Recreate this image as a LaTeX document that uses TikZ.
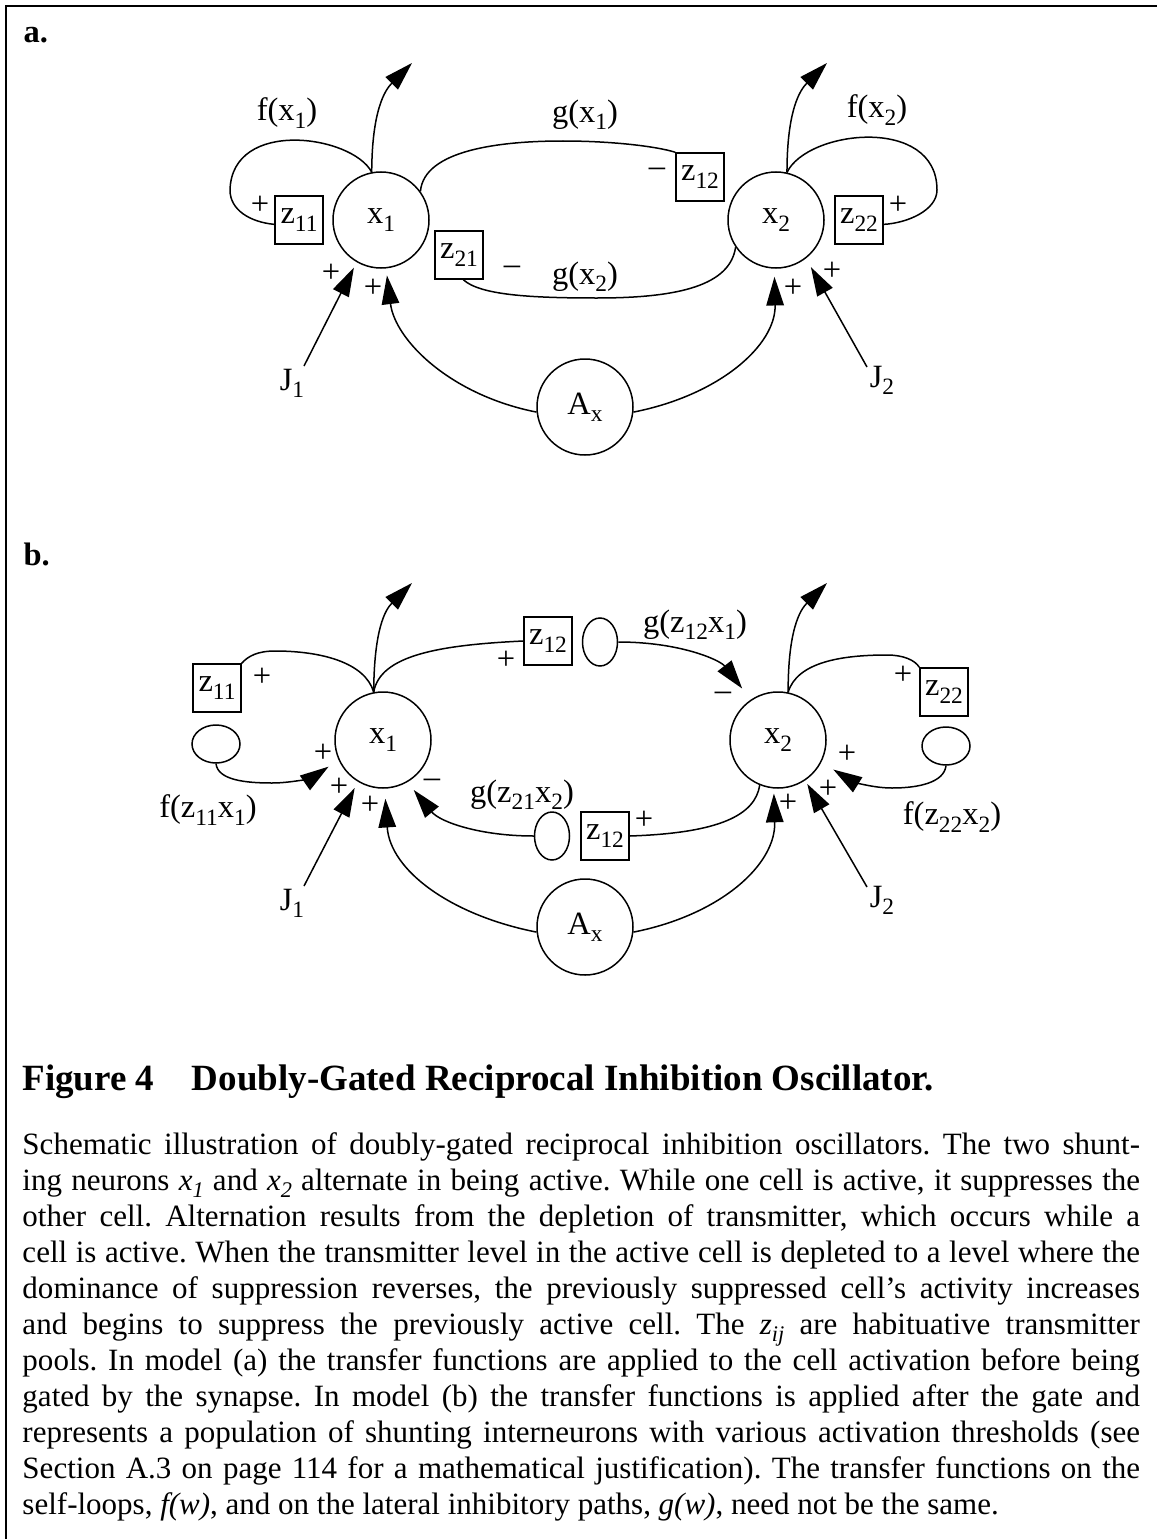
\documentclass[tikz,border=0pt]{standalone}
\usepackage{fontspec}
\setmainfont{Liberation Serif}
\usetikzlibrary{shapes.geometric, arrows.meta}
\newcommand{\lowsub}[1]{\raisebox{-0.22em}{\scalebox{0.72}{#1}}}
\tikzset{
	cell/.style   ={circle, draw=black, line width=0.6pt, minimum size=38.4pt, inner sep=0pt},
	gatebox/.style={rectangle, draw=black, line width=0.6pt, minimum size=19.2pt, inner sep=0pt},
	poolh/.style  ={ellipse, draw=black, line width=0.6pt, minimum width=19.2pt, minimum height=15.2pt, inner sep=0pt},
	poolv/.style  ={ellipse, draw=black, line width=0.6pt, minimum width=14pt, minimum height=19.2pt, inner sep=0pt},
	wire/.style   ={line width=0.6pt},
	sig/.style    ={-{Triangle[length=11.5pt, width=7pt]}, line width=0.6pt},
	sgn/.style    ={inner sep=0pt},
	% panel letters and caption
	panel/.style  ={anchor=base west, inner sep=0pt, font=\fontsize{13}{15}\selectfont\bfseries},
}

\begin{document}
\begin{tikzpicture}[x=0.4pt, y=-0.4pt, font=\fontsize{13}{15.6}\selectfont]
	\useasboundingbox (0,0) rectangle (1157,1539);
	\draw[line width=0.9pt] (6,1539) -- (6,6) -- (1157,6);

	% ---- panel a
	\node[panel] (pa) at (23,43) {a.};
	\node[cell] (xa1) at (381,220) {x\lowsub{1}};
	\node[cell] (xa2) at (776,220) {x\lowsub{2}};
	\node[cell] (aax) at (585,407) {A\lowsub{x}};
	\node[gatebox] (za11) at (299,220) {z\lowsub{11}};
	\node[gatebox] (za12) at (700,177) {z\lowsub{12}};
	\node[gatebox] (za21) at (459,255) {z\lowsub{21}};
	\node[gatebox] (za22) at (859,220) {z\lowsub{22}};
	\node (ja1lbl) at (292,383) {J\lowsub{1}};
	\node (ja2lbl) at (882,380) {J\lowsub{2}};
	\coordinate (ja1) at (304,366);
	\coordinate (ja2) at (867,367);
	\coordinate (outa1) at (412,63);
	\coordinate (outa2) at (827,63);
	\node (fa1) at (287,113) {f(x\lowsub{1})};
	\node (fa2) at (877,110) {f(x\lowsub{2})};
	\node (ga1) at (585,115) {g(x\lowsub{1})};
	\node (ga2) at (585,277) {g(x\lowsub{2})};

	\draw[sig] (xa1.101) .. controls (372,110) and (385,90) .. (outa1);
	\draw[sig] (xa2.77) .. controls (787,110) and (800,90) .. (outa2);
	\draw[wire] (xa1.101) .. controls (352,135) and (232,118) .. (230,190) .. controls (230,210) and (250,222) .. (za11.190);
	\draw[wire] (xa2.77) .. controls (807,130) and (937,115) .. (937,190) .. controls (937,210) and (908,223) .. (za22.-10);
	\draw[wire] (xa1.36) .. controls (424,150) and (500,141) .. (563,141) .. controls (610,141) and (655,146) .. (za12.north west);
	\draw[wire] (za21.-80) .. controls (480,295) and (530,298) .. (597,298) .. controls (680,298) and (730,285) .. (xa2.214);
	\draw[sig, shorten >=2.4pt] (ja1) -- (xa1.240);
	\draw[sig, shorten >=4pt] (ja2) -- (xa2.308);
	\draw[sig, shorten >=2.8pt] (aax.186) .. controls (450,395) and (395,340) .. (xa1.276);
	\draw[sig, shorten >=3.2pt] (aax.354) .. controls (720,395) and (776,345) .. (xa2.268);

	\node[sgn] at (260,205) {+};
	\node[sgn] at (898,205) {+};
	\node[sgn] at (331,273) {+};
	\node[sgn] at (373,288) {+};
	\node[sgn] at (793,288) {+};
	\node[sgn] at (832,271) {+};
	\node[sgn] at (657,172) {\textendash};
	\node[sgn] at (512,270) {\textendash};

	% ---- panel b
	\node[panel] (pb) at (23,565) {b.};
	\node[cell] (xb1) at (383,740) {x\lowsub{1}};
	\node[cell] (xb2) at (778,740) {x\lowsub{2}};
	\node[cell] (bax) at (585,927) {A\lowsub{x}};
	\node[gatebox] (zb11) at (217,688) {z\lowsub{11}};
	\node[gatebox] (zb12) at (548,641) {z\lowsub{12}};
	\node[gatebox] (zb21) at (605,836) {z\lowsub{12}};
	\node[gatebox] (zb22) at (944,692) {z\lowsub{22}};
	\node[poolh] (pb11) at (216,744) {};
	\node[poolv] (pb12) at (600,642) {};
	\node[poolv] (pb21) at (552,836) {};
	\node[poolh] (pb22) at (946,746) {};
	\node (jb1lbl) at (292,903) {J\lowsub{1}};
	\node (jb2lbl) at (882,900) {J\lowsub{2}};
	\coordinate (jb1) at (304,886);
	\coordinate (jb2) at (867,887);
	\coordinate (outb1) at (412,583);
	\coordinate (outb2) at (827,583);
	\node (fb1) at (208,810) {f(z\lowsub{11}x\lowsub{1})};
	\node (fb2) at (952,817) {f(z\lowsub{22}x\lowsub{2})};
	\node (gb1) at (695,625) {g(z\lowsub{12}x\lowsub{1})};
	\node (gb2) at (522,795) {g(z\lowsub{21}x\lowsub{2})};

	\draw[sig] (xb1.101) .. controls (374,630) and (385,610) .. (outb1);
	\draw[sig] (xb2.78) .. controls (788,630) and (800,610) .. (outb2);
	\draw[wire] (xb1.101) .. controls (365,662) and (320,651) .. (275,651) .. controls (258,651) and (248,656) .. (zb11.north east);
	\draw[wire] (xb2.78) .. controls (797,662) and (842,655) .. (887,655) .. controls (903,655) and (915,660) .. (zb22.north west);
	\draw[wire] (xb1.101) .. controls (380,655) and (440,645) .. (zb12.west);
	\draw[wire] (xb2.248) .. controls (755,815) and (720,833) .. (zb21.east);
	\draw[sig, shorten >=5.6pt] (pb12.east) .. controls (680,642) and (720,660) .. (xb2.124);
	\draw[sig, shorten >=4pt] (pb21.west) .. controls (480,836) and (440,822) .. (xb1.300);
	\draw[sig, shorten >=4.8pt] (pb11.south) .. controls (218,780) and (245,783) .. (272,783) .. controls (295,783) and (315,776) .. (xb1.204);
	\draw[sig, shorten >=5.6pt] (pb22.south) .. controls (944,782) and (920,788) .. (892,788) .. controls (870,788) and (850,780) .. (xb2.333);
	\draw[sig, shorten >=2.8pt] (jb1) -- (xb1.239);
	\draw[sig, shorten >=1.6pt] (jb2) -- (xb2.304);
	\draw[sig, shorten >=4pt] (bax.186) .. controls (450,915) and (390,870) .. (xb1.272);
	\draw[sig, shorten >=2pt] (bax.354) .. controls (720,915) and (776,865) .. (xb2.265);

	\node[sgn] at (262,677) {+};
	\node[sgn] at (323,753) {+};
	\node[sgn] at (339,787) {+};
	\node[sgn] at (370,805) {+};
	\node[sgn] at (506,660) {+};
	\node[sgn] at (644,820) {+};
	\node[sgn] at (788,803) {+};
	\node[sgn] at (828,789) {+};
	\node[sgn] at (847,754) {+};
	\node[sgn] at (903,675) {+};
	\node[sgn] at (723,696) {\textendash};
	\node[sgn] at (432,783) {\textendash};

	% ---- caption
	\node[anchor=base west, inner sep=0pt, font=\fontsize{14.8}{17}\selectfont\bfseries] (head) at (22,1090)
		{Figure 4\hspace{15pt}Doubly-Gated Reciprocal Inhibition Oscillator.};
	\node[anchor=north west, inner sep=0pt, text width=447pt, align=justify, font=\fontsize{12.4}{14.4}\selectfont\frenchspacing] (capt) at (22,1132)
		{Schematic illustration of doubly-gated reciprocal inhibition oscillators. The two shunt-\linebreak
		ing neurons \textit{x}\lowsub{\textit{1}} and \textit{x}\lowsub{\textit{2}} alternate in being active. While one cell is active, it suppresses the\linebreak
		other cell. Alternation results from the depletion of transmitter, which occurs while a\linebreak
		cell is active. When the transmitter level in the active cell is depleted to a level where the\linebreak
		dominance of suppression reverses, the previously suppressed cell’s activity increases\linebreak
		and begins to suppress the previously active cell. The \textit{z}\lowsub{\textit{ij}} are habituative transmitter\linebreak
		pools. In model (a) the transfer functions are applied to the cell activation before being\linebreak
		gated by the synapse. In model (b) the transfer functions is applied after the gate and\linebreak
		represents a population of shunting interneurons with various activation thresholds (see\linebreak
		Section A.3 on page 114 for a mathematical justification). The transfer functions on the\linebreak
		self-loops, \textit{f(w)}, and on the lateral inhibitory paths, \textit{g(w)}, need not be the same.};
\end{tikzpicture}
\end{document}
